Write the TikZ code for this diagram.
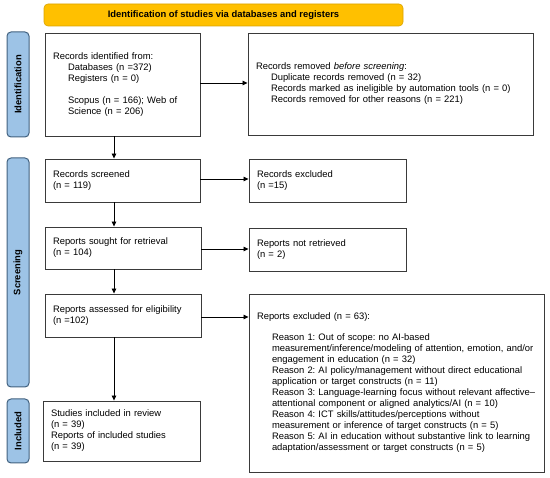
\documentclass[tikz,border=0pt]{standalone}
\usepackage{fontspec}
\setmainfont{Liberation Sans}
\usetikzlibrary{arrows.meta}
\definecolor{bannerfill}{HTML}{FFC000}
\definecolor{bannerdraw}{HTML}{D9A300}
\definecolor{sidefill}{HTML}{9DC3E6}
\definecolor{sidedraw}{HTML}{41617F}
\definecolor{boxdraw}{HTML}{3A3A3A}
\tikzset{
  box/.style={draw=boxdraw, line width=0.9pt, fill=white, inner xsep=8pt, inner ysep=0pt, align=left,
    font=\fontsize{9.4pt}{11pt}\selectfont, anchor=center},
  banner/.style={draw=bannerdraw, fill=bannerfill, rounded corners=4pt, line width=0.6pt,
    font=\fontsize{9.4pt}{11pt}\selectfont\bfseries, inner sep=0pt},
  side/.style={draw=sidedraw, fill=sidefill, rounded corners=4pt, line width=1pt, rotate=90,
    font=\fontsize{9.4pt}{11pt}\selectfont\bfseries, inner sep=0pt, minimum height=22pt},
  arr/.style={draw=black, line width=0.8pt, -{Triangle[length=5pt,width=4.5pt]}}
}
\newcommand{\ind}{\hspace*{15pt}}
\frenchspacing
\begin{document}
\begin{tikzpicture}[x=1pt,y=-1pt]
\useasboundingbox (0,0) rectangle (550,478);

\node[banner, minimum width=359pt, minimum height=22pt] (ban) at (223.5,15) {Identification of studies via databases and registers};

\node[side, minimum width=105pt] (lab1) at (18,84.5) {Identification};
\node[side, minimum width=229pt] (lab2) at (18,272.5) {Screening};
\node[side, minimum width=64pt] (lab3) at (18,431) {Included};

\node[box, minimum width=155pt, minimum height=103pt, text width=139pt] (idf) at (122.5,84.5)
 {Records identified from:\\ \ind Databases (n =372)\\ \ind Registers (n = 0)\\[11pt] \ind Scopus (n = 166); Web of\\ \ind Science (n = 206)};

\node[box, minimum width=285pt, minimum height=102pt, text width=269pt] (rem) at (390.5,84)
 {Records removed \textit{before screening}:\\ \ind Duplicate records removed (n = 32)\\ \ind Records marked as ineligible by automation tools (n = 0)\\ \ind Records removed for other reasons (n = 221)};

\node[box, minimum width=155pt, minimum height=43pt, text width=139pt] (scr) at (122.5,180.5)
 {Records screened\\(n = 119)};
\node[box, minimum width=157pt, minimum height=43pt, text width=141pt] (exc) at (327.5,180.5)
 {Records excluded\\(n =15)};

\node[box, minimum width=156pt, minimum height=42pt, text width=140pt] (sou) at (123,248)
 {Reports sought for retrieval\\(n = 104)};
\node[box, minimum width=157pt, minimum height=43pt, text width=141pt] (nret) at (327.5,249.5)
 {Reports not retrieved\\(n = 2)};

\node[box, minimum width=156pt, minimum height=43pt, text width=140pt] (ass) at (123,315.5)
 {Reports assessed for eligibility\\(n =102)};
\node[box, minimum width=295pt, minimum height=178pt, text width=279pt] (rex) at (396.5,383)
 {Reports excluded (n = 63):\\[10pt]
 \ind Reason 1: Out of scope: no AI-based\\
 \ind measurement/inference/modeling of attention, emotion, and/or\\
 \ind engagement in education (n = 32)\\
 \ind Reason 2: AI policy/management without direct educational\\
 \ind application or target constructs (n = 11)\\
 \ind Reason 3: Language-learning focus without relevant affective–\\
 \ind attentional component or aligned analytics/AI (n = 10)\\
 \ind Reason 4: ICT skills/attitudes/perceptions without\\
 \ind measurement or inference of target constructs (n = 5)\\
 \ind Reason 5: AI in education without substantive link to learning\\
 \ind adaptation/assessment or target constructs (n = 5)\\[14pt]};

\node[box, minimum width=157pt, minimum height=60pt, text width=141pt] (inc) at (121.5,431)
 {Studies included in review\\(n = 39)\\Reports of included studies\\(n = 39)};

\draw[arr] ([yshift=1.5pt]idf.east) -- ([yshift=1.5pt]idf.east -| rem.west);
\draw[arr] ([yshift=1.5pt]scr.east) -- ([yshift=1.5pt]scr.east -| exc.west);
\draw[arr] ([yshift=-1pt]sou.east) -- ([yshift=-1pt]sou.east -| nret.west);
\draw[arr] ([yshift=-1.5pt]ass.east) -- ([yshift=-1.5pt]ass.east -| rex.west);

\draw[arr] ([xshift=-8.5pt]idf.south) -- ([xshift=-8.5pt]idf.south |- scr.north);
\draw[arr] ([xshift=-8.5pt]scr.south) -- ([xshift=-8.5pt]scr.south |- sou.north);
\draw[arr] ([xshift=-9pt]sou.south) -- ([xshift=-9pt]sou.south |- ass.north);
\draw[arr] ([xshift=-9pt]ass.south) -- ([xshift=-9pt]ass.south |- inc.north);
\end{tikzpicture}
\end{document}
